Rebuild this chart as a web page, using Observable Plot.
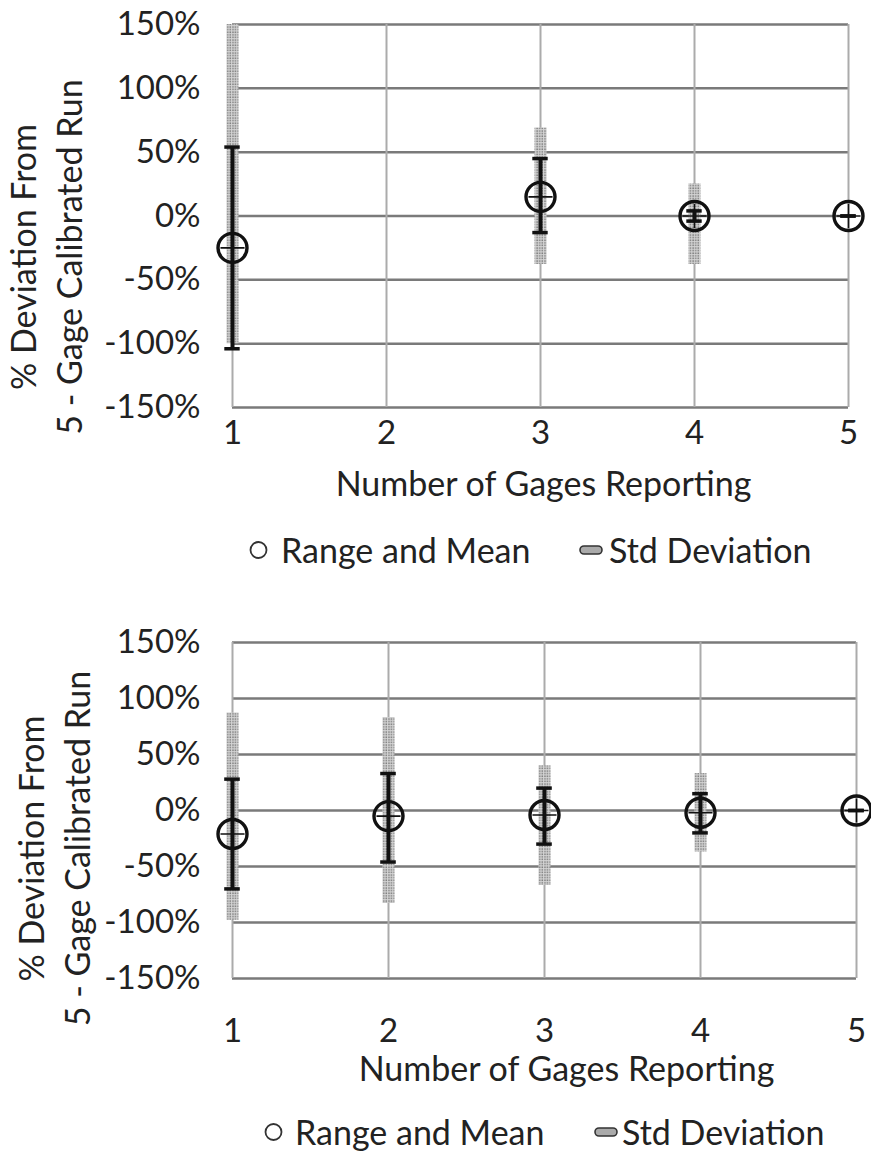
<!DOCTYPE html>
<html><head><meta charset="utf-8">
<script src="https://cdn.jsdelivr.net/npm/d3@7"></script>
<script src="https://cdn.jsdelivr.net/npm/@observablehq/plot@0.6"></script>
<style>
body{margin:0;background:#fff;font-family:Lato, sans-serif;color:#222;}
.legend{position:relative;width:871px;font-size:34px;}
.legend .item{position:absolute;top:50%;transform:translateY(-50%);white-space:nowrap;line-height:1;display:flex;align-items:center;}
.legend svg{display:block}
</style></head><body>
<div id="top"></div>
<div class="legend" id="leg1" style="height:50px"></div>
<div id="bottom"></div>
<div class="legend" id="leg2" style="height:44px"></div>
<script>
// ---- shared labels / ticks
const xTicks = [1, 2, 3, 4, 5];
const yTicks = [-150, -100, -50, 0, 50, 100, 150];
const xTitle = "Number of Gages Reporting";
const yTitle = "% Deviation From\n5 - Gage Calibrated Run";
const legendLabels = ["Range and Mean", "Std Deviation"];

// ---- top chart data (percent)
const gagesA = [1, 3, 4, 5];
const meanA = [-25, 15, 0, 0];
const rangeMaxA = [150, 69, 25, 0];
const rangeMinA = [-100, -38, -38, 0];
const stdHiA = [54, 45, 4, 0];
const stdLoA = [-104, -13, -4, 0];

// ---- bottom chart data (percent)
const gagesB = [1, 2, 3, 4, 5];
const meanB = [-21, -5, -4, -2, 0];
const rangeMaxB = [87, 83, 40, 33, 0];
const rangeMinB = [-98, -83, -67, -37, 0];
const stdHiB = [28, 33, 20, 15, 0];
const stdLoB = [-70, -46, -30, -20, 0];

function chart(o) {
  const rows = o.gages.map((g, i) => ({g, mean: o.mean[i], rmax: o.rmax[i], rmin: o.rmin[i], shi: o.shi[i], slo: o.slo[i]}));
  const cap = 0.05;
  const pid = "dots-" + o.id;
  const svg = Plot.plot({
    width: 871, height: o.height,
    marginTop: o.marginTop, marginBottom: o.marginBottom, marginLeft: 232, marginRight: o.marginRight,
    style: {fontFamily: "Lato, sans-serif", fontSize: "33px", color: "#222", background: "#fff", overflow: "visible"},
    x: {domain: [1, 5], ticks: xTicks, tickFormat: d => String(d), tickSize: 0, tickPadding: o.tickPad, label: null},
    y: {domain: [-150, 150], ticks: yTicks, tickFormat: d => d + "%", tickSize: 0, tickPadding: 32, label: null},
    marks: [
      Plot.ruleY(yTicks, {stroke: "#7a7a7a", strokeWidth: 2.5}),
      Plot.ruleX(xTicks, {stroke: "#ababab", strokeWidth: 2}),
      Plot.ruleX(rows, {x: "g", y1: "rmin", y2: "rmax", stroke: `url(#${pid})`, strokeWidth: 12}),
      Plot.ruleX(rows, {x: "g", y1: "slo", y2: "shi", stroke: "#111", strokeWidth: 4}),
      Plot.ruleY(rows, {y: "shi", x1: d => d.g - cap, x2: d => d.g + cap, stroke: "#111", strokeWidth: 3.5}),
      Plot.ruleY(rows, {y: "slo", x1: d => d.g - cap, x2: d => d.g + cap, stroke: "#111", strokeWidth: 3.5}),
      Plot.dot(rows, {x: "g", y: "mean", r: 14.5, stroke: "#111", strokeWidth: 3.4, fill: "none"}),
      Plot.dot(rows, {x: "g", y: "mean", symbol: "plus", r: 7.8, stroke: "#111", strokeWidth: 1.6}),
      Plot.text([yTitle], {frameAnchor: "left", textAnchor: "middle", lineAnchor: "middle", text: d => d, rotate: -90, dx: o.titleDx, dy: o.titleDy, fontSize: 34, lineHeight: 1.35, fill: "#222"}),
      Plot.text([xTitle], {frameAnchor: "bottom", text: d => d, dx: o.xLabelDx, dy: o.xLabelDy, fontSize: 34, fill: "#222"})
    ]
  });
  const ns = "http://www.w3.org/2000/svg";
  const defs = document.createElementNS(ns, "defs");
  defs.innerHTML = `<pattern id="${pid}" patternUnits="userSpaceOnUse" width="2.6" height="2.6"><rect x="0" y="0" width="2.6" height="2.6" fill="#d6d6d6"/><rect x="0.3" y="0.3" width="1.5" height="1.5" fill="#7d7d7d"/></pattern>`;
  svg.insertBefore(defs, svg.firstChild);
  return svg;
}

document.getElementById("top").append(chart({
  id: "A",
  gages: gagesA, mean: meanA, rmax: rangeMaxA, rmin: rangeMinA, shi: stdHiA, slo: stdLoA,
  height: 525, marginTop: 24, marginBottom: 118, marginRight: 23, tickPad: 13,
  titleDx: -188, titleDy: 41, xLabelDx: 3, xLabelDy: 88
}));
document.getElementById("bottom").append(chart({
  id: "B",
  gages: gagesB, mean: meanB, rmax: rangeMaxB, rmin: rangeMinB, shi: stdHiB, slo: stdLoB,
  height: 535, marginTop: 67, marginBottom: 132, marginRight: 15, tickPad: 40,
  titleDx: -180, titleDy: 38, xLabelDx: 22, xLabelDy: 102
}));

function legend(id, pos) {
  const el = document.getElementById(id);
  const circ = document.createElement("div");
  circ.className = "item"; circ.style.left = pos[0] + "px";
  circ.innerHTML = '<svg width="19" height="19"><circle cx="9.5" cy="9.5" r="8" fill="none" stroke="#333" stroke-width="1.8"/></svg>';
  el.append(circ);
  const t1 = document.createElement("div");
  t1.className = "item"; t1.style.left = pos[1] + "px"; t1.textContent = legendLabels[0];
  el.append(t1);
  const sw = document.createElement("div");
  sw.className = "item"; sw.style.left = pos[2] + "px";
  sw.innerHTML = '<svg width="24" height="10"><rect x="1" y="1" width="22" height="8" rx="4" fill="#aaa" stroke="#333" stroke-width="1.6"/></svg>';
  el.append(sw);
  const t2 = document.createElement("div");
  t2.className = "item"; t2.style.left = pos[3] + "px"; t2.textContent = legendLabels[1];
  el.append(t2);
}
legend("leg1", [249, 281, 579, 609]);
legend("leg2", [264, 295, 594, 622]);
</script>
</body></html>
